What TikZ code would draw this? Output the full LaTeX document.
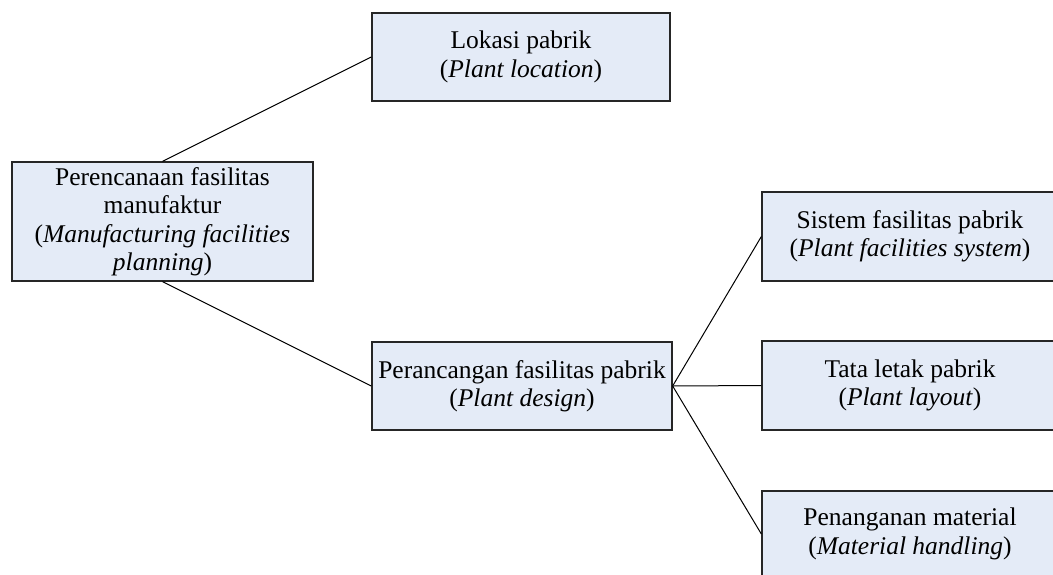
\documentclass[tikz,border=0pt]{standalone}
\usepackage{fontspec}
\setmainfont{Liberation Serif}
\definecolor{boxfill}{RGB}{228,235,247}
\begin{document}
\begin{tikzpicture}[x=1pt,y=-1pt,
  box/.style={draw=black!85, line width=1.3pt, fill=boxfill, align=center,
    font=\fontsize{25.5}{28.5}\selectfont, inner sep=0pt},
  link/.style={line width=1pt, draw=black}]
\useasboundingbox (0,0) rectangle (1053,574);
\clip (0,0) rectangle (1053,574);
\node[box, minimum width=301pt, minimum height=119pt] (main) at (162.5,221.5)
  {Perencanaan fasilitas\\manufaktur\\(\textit{Manufacturing facilities}\\\textit{planning})};
\node[box, minimum width=298pt, minimum height=88pt] (lok) at (521,57)
  {Lokasi pabrik\\(\textit{Plant location})};
\node[box, minimum width=300pt, minimum height=88pt] (pd) at (522,386)
  {Perancangan fasilitas pabrik\\(\textit{Plant design})};
\node[box, minimum width=296pt, minimum height=89pt] (sfp) at (910,236.5)
  {Sistem fasilitas pabrik\\(\textit{Plant facilities system})};
\node[box, minimum width=296pt, minimum height=89pt] (tlp) at (910,385.5)
  {Tata letak pabrik\\(\textit{Plant layout})};
\node[box, minimum width=296pt, minimum height=86pt] (pm) at (910,534)
  {Penanganan material\\(\textit{Material handling})};
\draw[link] (main.north) -- (lok.west);
\draw[link] (main.south) -- (pd.west);
\draw[link] (pd.east) -- (sfp.west);
\draw[link] (pd.east) -- (tlp.west);
\draw[link] (pd.east) -- (pm.west);
\end{tikzpicture}
\end{document}
